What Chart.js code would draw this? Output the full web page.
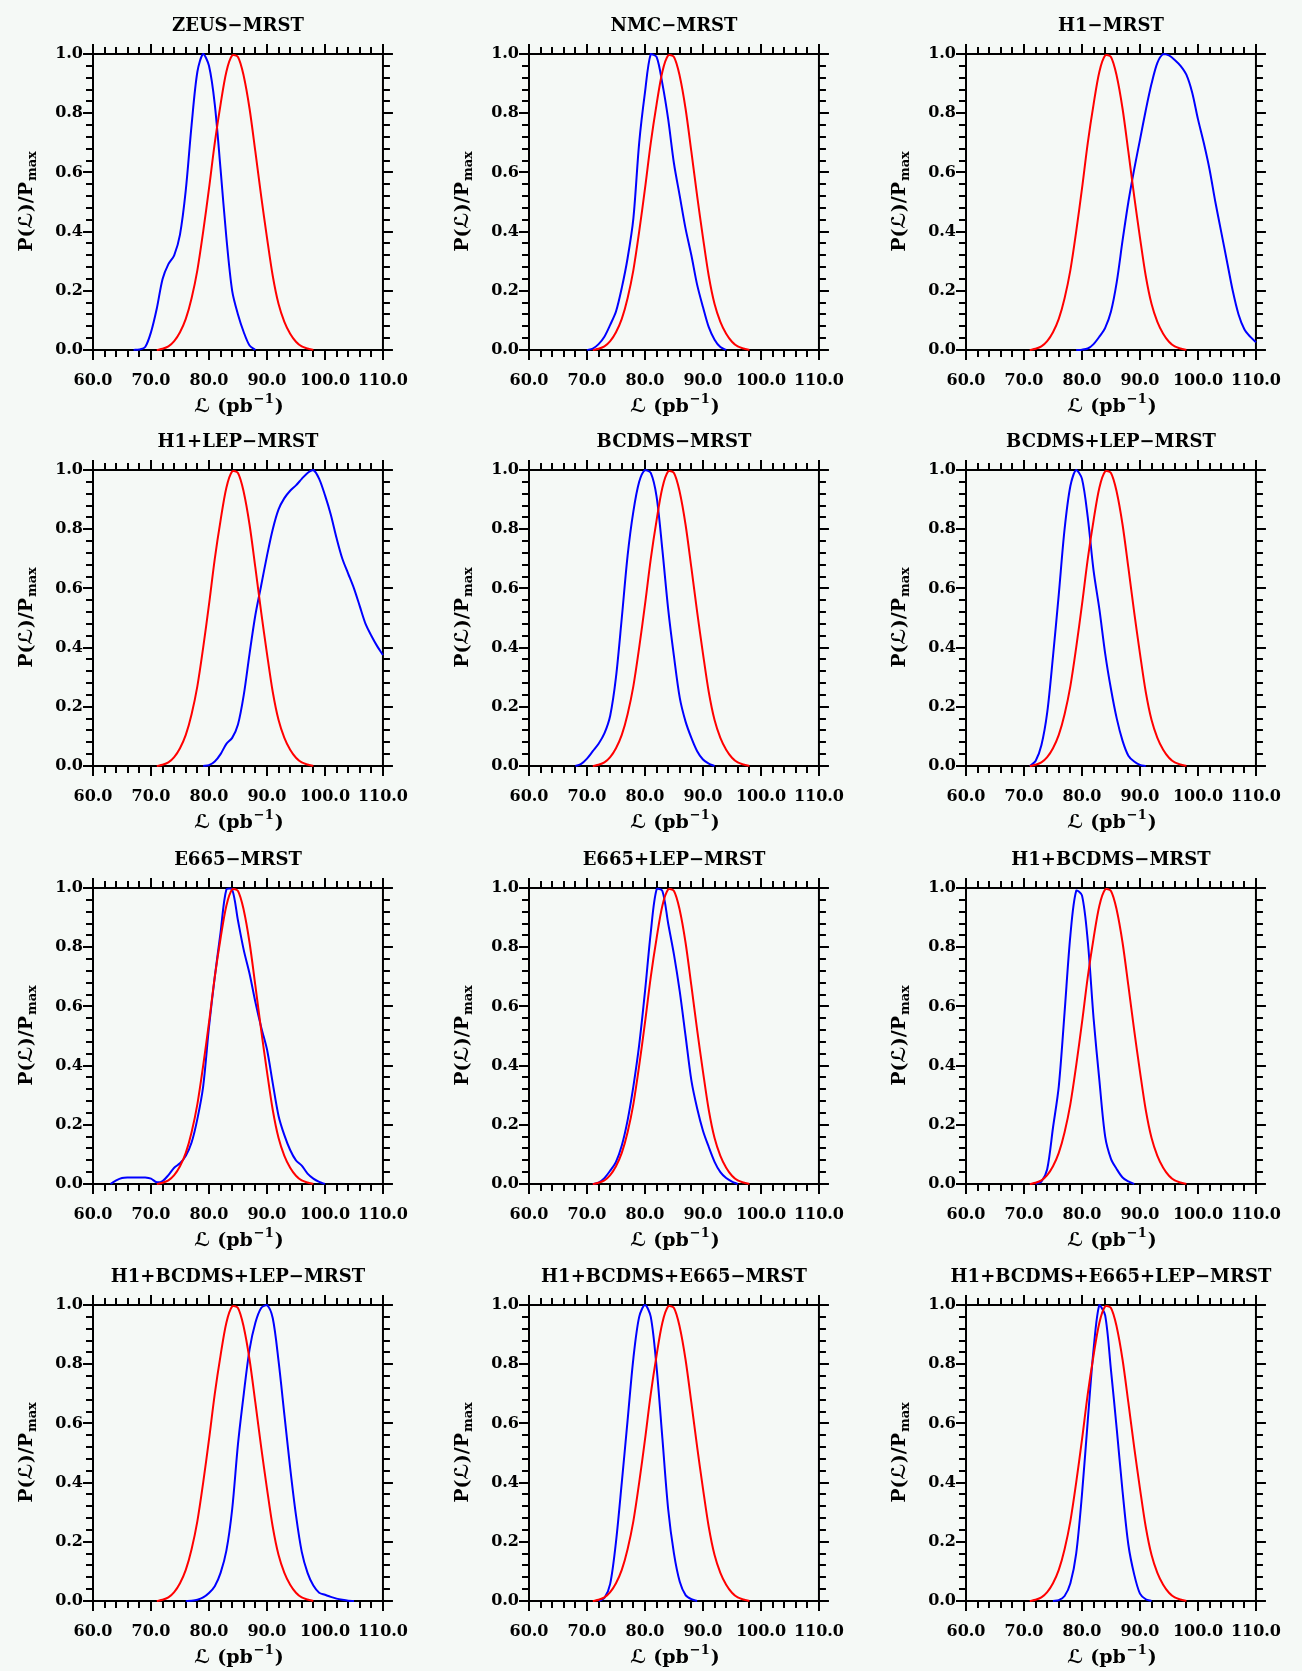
<!DOCTYPE html>
<html><head><meta charset="utf-8">
<script src="https://cdn.jsdelivr.net/npm/chart.js@4.4.1/dist/chart.umd.min.js"></script>
<style>
html,body{margin:0;padding:0;background:#f5f9f6;}
body{width:1302px;height:1671px;position:relative;overflow:hidden;}
canvas{position:absolute;}
</style></head><body>
<script>
const _ = null;
// luminosity grid (pb^-1)
const lumi = [60,61,62,63,64,65,66,67,68,69,70,71,72,73,74,75,76,77,78,79,80,81,82,83,84,85,86,87,88,89,90,91,92,93,94,95,96,97,98,99,100,101,102,103,104,105,106,107,108,109,110];
const xTickLabels = [60,70,80,90,100,110];
const yTickLabels = [0,0.2,0.4,0.6,0.8,1.0];
const titles = ["ZEUS\u2212MRST","NMC\u2212MRST","H1\u2212MRST",
  "H1+LEP\u2212MRST","BCDMS\u2212MRST","BCDMS+LEP\u2212MRST",
  "E665\u2212MRST","E665+LEP\u2212MRST","H1+BCDMS\u2212MRST",
  "H1+BCDMS+LEP\u2212MRST","H1+BCDMS+E665\u2212MRST","H1+BCDMS+E665+LEP\u2212MRST"];

// red: MRST reference curve (same in every panel)
const mrst = [_,_,_,_,_,_,_,_,_,_,_, 0,0.004,0.012,0.03,0.06,0.105,0.175,0.27,0.40,0.545,0.70,0.83,0.94,0.995,0.99,0.925,0.815,0.67,0.52,0.38,0.25,0.155,0.095,0.055,0.028,0.012,0.005,0, _,_,_,_,_,_,_,_,_,_,_,_];
// blue curves
const zeus = [_,_,_,_,_,_,_, 0,0.002,0.01,0.06,0.14,0.24,0.29,0.32,0.39,0.54,0.76,0.94,1.0,0.96,0.83,0.61,0.38,0.2,0.12,0.06,0.015,0, _,_,_,_,_,_,_,_,_,_,_,_,_,_,_,_,_,_,_,_,_,_];
const nmc = [_,_,_,_,_,_,_,_,_,_, 0,0.005,0.02,0.045,0.085,0.13,0.21,0.31,0.445,0.7,0.87,1.0,0.99,0.9,0.78,0.63,0.52,0.41,0.32,0.22,0.145,0.077,0.035,0.01,0, _,_,_,_,_,_,_,_,_,_,_,_,_,_,_,_];
const h1 = [_,_,_,_,_,_,_,_,_,_,_,_,_,_,_,_,_,_,_, 0,0.001,0.005,0.02,0.045,0.075,0.13,0.23,0.37,0.5,0.61,0.71,0.81,0.9,0.97,1.0,0.995,0.98,0.96,0.93,0.87,0.78,0.70,0.61,0.5,0.4,0.3,0.2,0.12,0.07,0.045,0.026];
const h1lep = [_,_,_,_,_,_,_,_,_,_,_,_,_,_,_,_,_,_,_, 0,0.003,0.015,0.04,0.075,0.095,0.14,0.24,0.38,0.51,0.61,0.71,0.80,0.867,0.905,0.93,0.948,0.97,0.99,1.0,0.97,0.915,0.85,0.77,0.70,0.65,0.6,0.54,0.48,0.44,0.405,0.375];
const bcdms = [_,_,_,_,_,_,_,_, 0,0.007,0.025,0.05,0.075,0.11,0.17,0.3,0.5,0.71,0.86,0.96,1.0,0.99,0.91,0.73,0.53,0.37,0.23,0.15,0.095,0.05,0.022,0.008,0, _,_,_,_,_,_,_,_,_,_,_,_,_,_,_,_,_,_];
const bcdmslep = [_,_,_,_,_,_,_,_,_,_,_, 0,0.017,0.07,0.18,0.37,0.58,0.8,0.946,1.0,0.97,0.84,0.66,0.53,0.38,0.26,0.16,0.085,0.035,0.015,0.004,0, _,_,_,_,_,_,_,_,_,_,_,_,_,_,_,_,_,_,_];
const e665 = [_,_,_, 0,0.012,0.02,0.022,0.022,0.022,0.022,0.018,0.006,0.01,0.03,0.055,0.07,0.095,0.14,0.22,0.33,0.53,0.70,0.85,0.995,0.995,0.89,0.79,0.71,0.615,0.53,0.455,0.34,0.23,0.165,0.115,0.08,0.062,0.035,0.018,0.007,0, _,_,_,_,_,_,_,_,_,_];
const e665lep = [_,_,_,_,_,_,_,_,_,_,_, 0,0.005,0.02,0.045,0.075,0.13,0.215,0.33,0.47,0.65,0.85,0.995,0.99,0.88,0.775,0.65,0.5,0.35,0.255,0.18,0.125,0.075,0.04,0.02,0.008,0, _,_,_,_,_,_,_,_,_,_,_,_,_,_];
const h1bcdms = [_,_,_,_,_,_,_,_,_,_,_,_, 0,0.008,0.05,0.19,0.33,0.58,0.84,0.99,0.975,0.82,0.56,0.35,0.16,0.085,0.05,0.022,0.009,0, _,_,_,_,_,_,_,_,_,_,_,_,_,_,_,_,_,_,_,_,_];
const h1bcdmslep = [_,_,_,_,_,_,_,_,_,_,_,_,_,_,_,_, 0,0.001,0.004,0.012,0.027,0.05,0.095,0.17,0.31,0.53,0.70,0.85,0.94,0.99,1.0,0.955,0.81,0.63,0.45,0.29,0.166,0.095,0.052,0.028,0.021,0.014,0.008,0.004,0.001,0, _,_,_,_,_];
const h1bcdmse665 = [_,_,_,_,_,_,_,_,_,_,_,_, 0,0.01,0.058,0.2,0.4,0.61,0.82,0.96,1.0,0.96,0.79,0.55,0.31,0.16,0.065,0.02,0.006,0, _,_,_,_,_,_,_,_,_,_,_,_,_,_,_,_,_,_,_,_,_];
const h1bcdmse665lep = [_,_,_,_,_,_,_,_,_,_,_,_,_,_,_, 0,0.003,0.017,0.06,0.16,0.36,0.61,0.85,1.0,0.965,0.78,0.58,0.37,0.19,0.09,0.025,0.006,0, _,_,_,_,_,_,_,_,_,_,_,_,_,_,_,_,_,_];

const blueSeries = [zeus,nmc,h1,h1lep,bcdms,bcdmslep,e665,e665lep,h1bcdms,h1bcdmslep,h1bcdmse665,h1bcdmse665lep];

const colLeft = [0,436,873];
const rowTop = [0,416,834,1251];
const W = 429, H = 417;
const FAM = '"DejaVu Serif","DejaVu Sans",serif';

const framePlugin = {
  id: 'frame',
  beforeDatasetsDraw(chart) {
    const {ctx, chartArea: a, scales: {x, y}} = chart;
    ctx.save();
    ctx.strokeStyle = '#000';
    ctx.lineWidth = 2;
    ctx.strokeRect(a.left, a.top, a.right - a.left, a.bottom - a.top);
    ctx.beginPath();
    for (let v = 60; v <= 110; v += 2) {
      const px = Math.round(x.getPixelForValue(v));
      const len = (v % 10 === 0) ? 10 : 7;
      ctx.moveTo(px, a.bottom); ctx.lineTo(px, a.bottom + len);
      ctx.moveTo(px, a.top); ctx.lineTo(px, a.top - len);
    }
    for (let k = 0; k <= 25; k++) {
      const v = k * 0.04;
      const py = Math.round(y.getPixelForValue(v));
      const len = (k % 5 === 0) ? 10 : 7;
      ctx.moveTo(a.left, py); ctx.lineTo(a.left - len, py);
      ctx.moveTo(a.right, py); ctx.lineTo(a.right + len, py);
    }
    ctx.stroke();
    ctx.restore();
  },
  afterDraw(chart) {
    const {ctx, chartArea: a} = chart;
    const cx = (a.left + a.right) / 2;
    const cy = (a.top + a.bottom) / 2;
    ctx.save();
    ctx.fillStyle = '#000';
    ctx.textBaseline = 'middle';
    // title
    ctx.font = 'bold 18px ' + FAM;
    ctx.textAlign = 'center';
    ctx.fillText(chart.options.plugins.frame.title, cx, a.top - 28);
    // x label: L (pb^-1)
    ctx.textAlign = 'left';
    const big = 'bold 19px ' + FAM, small = 'bold 13px ' + FAM;
    const p1 = '\u2112 (pb', p2 = '\u22121', p3 = ')';
    ctx.font = big; const w1 = ctx.measureText(p1).width, w3 = ctx.measureText(p3).width;
    ctx.font = small; const w2 = ctx.measureText(p2).width;
    const sx = cx - (w1 + w2 + w3) / 2;
    const ly = a.bottom + 57;
    ctx.font = big; ctx.fillText(p1, sx, ly);
    ctx.font = small; ctx.fillText(p2, sx + w1 + 1, ly - 7);
    ctx.font = big; ctx.fillText(p3, sx + w1 + w2 + 2, ly);
    // y label: P(L)/P_max
    ctx.translate(a.left - 66, cy);
    ctx.rotate(-Math.PI / 2);
    const q1 = 'P(\u2112)/P', q2 = 'max';
    ctx.font = big; const v1 = ctx.measureText(q1).width;
    ctx.font = small; const v2 = ctx.measureText(q2).width;
    const st = -(v1 + v2) / 2;
    ctx.font = big; ctx.fillText(q1, st, 0);
    ctx.font = small; ctx.fillText(q2, st + v1 + 1, 6);
    ctx.restore();
  }
};

titles.forEach((title, idx) => {
  const r = Math.floor(idx / 3), c = idx % 3;
  const cv = document.createElement('canvas');
  cv.width = W; cv.height = H;
  cv.style.left = colLeft[c] + 'px';
  cv.style.top = rowTop[r] + 'px';
  cv.style.width = W + 'px'; cv.style.height = H + 'px';
  document.body.appendChild(cv);
  const blue = blueSeries[idx];
  new Chart(cv, {
    type: 'line',
    data: {
      datasets: [
        { data: lumi.map((x, i) => ({x, y: mrst[i]})), borderColor: '#ff0000', borderWidth: 2, pointRadius: 0, tension: 0.3, clip: false },
        { data: lumi.map((x, i) => ({x, y: blue[i]})), borderColor: '#0000ff', borderWidth: 2, pointRadius: 0, tension: 0.3, clip: false }
      ]
    },
    options: {
      responsive: false,
      devicePixelRatio: 1,
      animation: false,
      events: [],
      layout: { padding: { top: 54, right: 40, bottom: 27, left: 0 } },
      plugins: { legend: { display: false }, tooltip: { enabled: false }, title: { display: false }, frame: { title } },
      scales: {
        x: {
          type: 'linear', min: 60, max: 110,
          afterBuildTicks: s => { s.ticks = xTickLabels.map(v => ({value: v})); },
          afterFit: s => { s.height = 40; },
          grid: { display: false, drawTicks: false }, border: { display: false },
          ticks: { callback: v => Number(v).toFixed(1), color: '#000', padding: 21, maxRotation: 0, autoSkip: false,
                   font: { family: FAM, weight: 'bold', size: 16 } }
        },
        y: {
          type: 'linear', min: 0, max: 1,
          afterBuildTicks: s => { s.ticks = yTickLabels.map(v => ({value: v})); },
          afterFit: s => { s.width = 93; },
          grid: { display: false, drawTicks: false }, border: { display: false },
          ticks: { callback: v => Number(v).toFixed(1), color: '#000', padding: 10,
                   font: { family: FAM, weight: 'bold', size: 16 } }
        }
      }
    },
    plugins: [framePlugin]
  });
});
</script>
</body></html>
